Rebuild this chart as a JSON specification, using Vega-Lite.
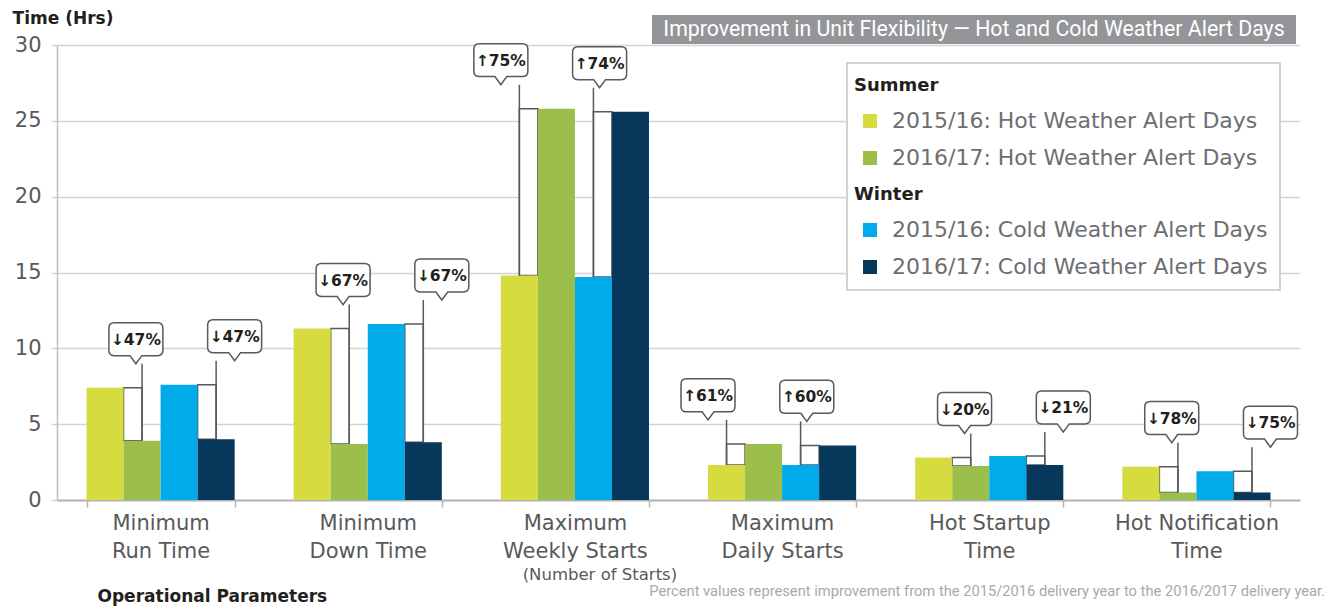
{
  "$schema": "https://vega.github.io/schema/vega-lite/v6.json",
  "background": "white",
  "padding": {"left": 12, "top": 10, "right": 10, "bottom": 4},
  "config": {
    "view": {"stroke": null},
    "axisY": {
      "tickCount": 6,
      "grid": true,
      "gridColor": "#d1d3d4",
      "gridWidth": 1.5,
      "domain": true,
      "domainColor": "#bcbec0",
      "domainWidth": 1.5,
      "ticks": true,
      "tickSize": 6,
      "tickColor": "#d1d3d4",
      "tickWidth": 1.5,
      "labelFont": "DejaVu Sans",
      "labelFontSize": 21,
      "labelColor": "#58595b",
      "labelPadding": 10
    }
  },
  "datasets": {
    "bars": [
      {"param": "Minimum Run Time", "series": "2015/16: Hot Weather Alert Days", "value": 7.4},
      {"param": "Minimum Run Time", "series": "2016/17: Hot Weather Alert Days", "value": 3.9},
      {"param": "Minimum Run Time", "series": "2015/16: Cold Weather Alert Days", "value": 7.6},
      {"param": "Minimum Run Time", "series": "2016/17: Cold Weather Alert Days", "value": 4.0},
      {"param": "Minimum Down Time", "series": "2015/16: Hot Weather Alert Days", "value": 11.3},
      {"param": "Minimum Down Time", "series": "2016/17: Hot Weather Alert Days", "value": 3.7},
      {"param": "Minimum Down Time", "series": "2015/16: Cold Weather Alert Days", "value": 11.6},
      {"param": "Minimum Down Time", "series": "2016/17: Cold Weather Alert Days", "value": 3.8},
      {"param": "Maximum Weekly Starts", "series": "2015/16: Hot Weather Alert Days", "value": 14.8},
      {"param": "Maximum Weekly Starts", "series": "2016/17: Hot Weather Alert Days", "value": 25.8},
      {"param": "Maximum Weekly Starts", "series": "2015/16: Cold Weather Alert Days", "value": 14.7},
      {"param": "Maximum Weekly Starts", "series": "2016/17: Cold Weather Alert Days", "value": 25.6},
      {"param": "Maximum Daily Starts", "series": "2015/16: Hot Weather Alert Days", "value": 2.3},
      {"param": "Maximum Daily Starts", "series": "2016/17: Hot Weather Alert Days", "value": 3.7},
      {"param": "Maximum Daily Starts", "series": "2015/16: Cold Weather Alert Days", "value": 2.3},
      {"param": "Maximum Daily Starts", "series": "2016/17: Cold Weather Alert Days", "value": 3.6},
      {"param": "Hot Startup Time", "series": "2015/16: Hot Weather Alert Days", "value": 2.8},
      {"param": "Hot Startup Time", "series": "2016/17: Hot Weather Alert Days", "value": 2.25},
      {"param": "Hot Startup Time", "series": "2015/16: Cold Weather Alert Days", "value": 2.9},
      {"param": "Hot Startup Time", "series": "2016/17: Cold Weather Alert Days", "value": 2.3},
      {"param": "Hot Notification Time", "series": "2015/16: Hot Weather Alert Days", "value": 2.2},
      {"param": "Hot Notification Time", "series": "2016/17: Hot Weather Alert Days", "value": 0.5},
      {"param": "Hot Notification Time", "series": "2015/16: Cold Weather Alert Days", "value": 1.9},
      {"param": "Hot Notification Time", "series": "2016/17: Cold Weather Alert Days", "value": 0.5}
    ],
    "brackets": [
      {"param": "Minimum Run Time", "season": "Summer", "label": "↓47%", "high": 7.4, "low": 3.9, "bracket": "Summer fall", "over": "2016/17: Hot Weather Alert Days"},
      {"param": "Minimum Run Time", "season": "Winter", "label": "↓47%", "high": 7.6, "low": 4.0, "bracket": "Winter fall", "over": "2016/17: Cold Weather Alert Days"},
      {"param": "Minimum Down Time", "season": "Summer", "label": "↓67%", "high": 11.3, "low": 3.7, "bracket": "Summer fall", "over": "2016/17: Hot Weather Alert Days"},
      {"param": "Minimum Down Time", "season": "Winter", "label": "↓67%", "high": 11.6, "low": 3.8, "bracket": "Winter fall", "over": "2016/17: Cold Weather Alert Days"},
      {"param": "Maximum Weekly Starts", "season": "Summer", "label": "↑75%", "high": 25.8, "low": 14.8, "bracket": "Summer rise", "over": "2015/16: Hot Weather Alert Days"},
      {"param": "Maximum Weekly Starts", "season": "Winter", "label": "↑74%", "high": 25.6, "low": 14.7, "bracket": "Winter rise", "over": "2015/16: Cold Weather Alert Days"},
      {"param": "Maximum Daily Starts", "season": "Summer", "label": "↑61%", "high": 3.7, "low": 2.3, "bracket": "Summer rise", "over": "2015/16: Hot Weather Alert Days"},
      {"param": "Maximum Daily Starts", "season": "Winter", "label": "↑60%", "high": 3.6, "low": 2.3, "bracket": "Winter rise", "over": "2015/16: Cold Weather Alert Days"},
      {"param": "Hot Startup Time", "season": "Summer", "label": "↓20%", "high": 2.8, "low": 2.25, "bracket": "Summer fall", "over": "2016/17: Hot Weather Alert Days"},
      {"param": "Hot Startup Time", "season": "Winter", "label": "↓21%", "high": 2.9, "low": 2.3, "bracket": "Winter fall", "over": "2016/17: Cold Weather Alert Days"},
      {"param": "Hot Notification Time", "season": "Summer", "label": "↓78%", "high": 2.2, "low": 0.5, "bracket": "Summer fall", "over": "2016/17: Hot Weather Alert Days"},
      {"param": "Hot Notification Time", "season": "Winter", "label": "↓75%", "high": 1.9, "low": 0.5, "bracket": "Winter fall", "over": "2016/17: Cold Weather Alert Days"}
    ],
    "notes": [
      {"param": "Maximum Weekly Starts", "note": "(Number of Starts)"}
    ]
  },
  "spacing": -10,
  "vconcat": [
    {
      "bounds": "flush",
      "spacing": 583,
      "hconcat": [
        {
          "width": 12,
          "height": 8,
          "data": {"values": [{"t": "Time (Hrs)"}]},
          "mark": {"type": "text", "font": "DejaVu Sans", "fontSize": 17, "fontWeight": "bold", "color": "#231f20"},
          "encoding": {"text": {"field": "t", "type": "nominal"}}
        },
        {
          "width": 644,
          "height": 29,
          "view": {"fill": "#939598", "stroke": null},
          "data": {"values": [{"t": "Improvement in Unit Flexibility — Hot and Cold Weather Alert Days"}]},
          "mark": {"type": "text", "font": "Roboto", "fontSize": 21.3, "color": "white"},
          "encoding": {"text": {"field": "t", "type": "nominal"}}
        }
      ]
    },
    {
      "width": 1243,
      "height": 455,
      "title": {
        "text": "Percent values represent improvement from the 2015/2016 delivery year to the 2016/2017 delivery year.",
        "orient": "bottom",
        "anchor": "end",
        "frame": "group",
        "offset": -20,
        "dx": 25,
        "font": "Roboto",
        "fontSize": 14.7,
        "fontWeight": "normal",
        "color": "#a7a9ac"
      },
      "encoding": {
        "x": {
          "field": "param",
          "type": "nominal",
          "scale": {
            "domain": ["Minimum Run Time", "Minimum Down Time", "Maximum Weekly Starts", "Maximum Daily Starts", "Hot Startup Time", "Hot Notification Time"],
            "paddingInner": 0.285,
            "paddingOuter": 0.1425
          },
          "axis": {
            "title": "Operational Parameters",
            "titleFont": "DejaVu Sans",
            "titleFontSize": 17,
            "titleFontWeight": "bold",
            "titleColor": "#231f20",
            "titleAnchor": "start",
            "titleAlign": "left",
            "titleBaseline": "middle",
            "titleX": 40,
            "titleY": 96,
            "labelAngle": 0,
            "labelExpr": "indexof(datum.label, 'Hot ') == 0 ? [slice(datum.label, 0, lastindexof(datum.label, ' ')), slice(datum.label, lastindexof(datum.label, ' ') + 1)] : [slice(datum.label, 0, indexof(datum.label, ' ')), slice(datum.label, indexof(datum.label, ' ') + 1)]",
            "labelFont": "DejaVu Sans",
            "labelFontSize": 21,
            "labelColor": "#58595b",
            "labelLineHeight": 28,
            "labelPadding": 5,
            "labelLimit": 0,
            "tickBand": "extent",
            "tickSize": 7,
            "tickColor": "#b5b5b5",
            "tickWidth": 1.5,
            "domainColor": "#b5b5b5",
            "domainWidth": 2,
            "grid": false
          }
        }
      },
      "layer": [
        {
          "data": {"name": "brackets"},
          "mark": {"type": "bar", "fill": "white", "stroke": "#58595b", "strokeWidth": 1.5},
          "encoding": {
            "xOffset": {
              "field": "bracket",
              "type": "nominal",
              "scale": {"domain": ["pad-1", "Summer rise", "Summer fall", "pad-2", "pad-3", "Winter rise", "Winter fall", "pad-4"], "paddingInner": 0, "paddingOuter": 0}
            },
            "y": {"field": "high", "type": "quantitative", "title": null, "scale": {"domain": [0, 30]}},
            "y2": {"field": "low"}
          }
        },
        {
          "data": {"name": "bars"},
          "mark": {"type": "bar"},
          "encoding": {
            "xOffset": {
              "field": "series",
              "type": "nominal",
              "scale": {"domain": ["2015/16: Hot Weather Alert Days", "2016/17: Hot Weather Alert Days", "2015/16: Cold Weather Alert Days", "2016/17: Cold Weather Alert Days"], "paddingInner": 0, "paddingOuter": 0}
            },
            "y": {"field": "value", "type": "quantitative", "stack": null, "title": null, "scale": {"domain": [0, 30]}},
            "color": {
              "field": "series",
              "type": "nominal",
              "scale": {
                "domain": ["Summer", "2015/16: Hot Weather Alert Days", "2016/17: Hot Weather Alert Days", "Winter", "2015/16: Cold Weather Alert Days", "2016/17: Cold Weather Alert Days"],
                "range": ["transparent", "#d6dc3f", "#9cbe4b", "transparent", "#00abe9", "#07375a"]
              },
              "legend": {
                "title": null,
                "orient": "none",
                "legendX": 790,
                "legendY": 48,
                "direction": "vertical",
                "symbolType": "square",
                "symbolSize": 196,
                "symbolStrokeWidth": 0,
                "labelFont": "DejaVu Sans",
                "labelFontSize": 22,
                "labelColor": "#6d6e71",
                "labelOffset": 11,
                "labelLimit": 0,
                "rowPadding": 15,
                "padding": 12,
                "strokeColor": "#d1d3d4",
                "fillColor": "white",
                "encode": {
                  "legend": {
                    "update": {
                      "strokeWidth": {"value": 2}
                    }
                  },
                  "labels": {
                    "update": {
                      "fontWeight": {"signal": "datum.label == 'Summer' || datum.label == 'Winter' ? 'bold' : 'normal'"},
                      "fontSize": {"signal": "datum.label == 'Summer' || datum.label == 'Winter' ? 18 : 22"},
                      "fill": {"signal": "datum.label == 'Summer' || datum.label == 'Winter' ? '#231f20' : '#6d6e71'"},
                      "dx": {"signal": "datum.label == 'Summer' || datum.label == 'Winter' ? -38 : 0"}
                    }
                  }
                }
              }
            }
          }
        },
        {
          "data": {"name": "brackets"},
          "mark": {"type": "rule", "color": "#58595b", "strokeWidth": 1.5, "y2Offset": -24},
          "encoding": {
            "xOffset": {
              "field": "over",
              "type": "nominal",
              "scale": {"domain": ["2015/16: Hot Weather Alert Days", "2016/17: Hot Weather Alert Days", "2015/16: Cold Weather Alert Days", "2016/17: Cold Weather Alert Days"], "paddingInner": 0, "paddingOuter": 0}
            },
            "y": {"field": "low", "type": "quantitative", "title": null, "scale": {"domain": [0, 30]}},
            "y2": {"field": "high"}
          }
        },
        {
          "data": {"name": "brackets"},
          "mark": {
            "type": "point",
            "shape": "M0,0 L-0.22,-0.3 L-0.8,-0.3 Q-1,-0.3 -1,-0.5 L-1,-1.32 Q-1,-1.52 -0.8,-1.52 L0.8,-1.52 Q1,-1.52 1,-1.32 L1,-0.5 Q1,-0.3 0.8,-0.3 L0.22,-0.3 Z",
            "size": 2916,
            "filled": true,
            "fill": "white",
            "stroke": "#58595b",
            "strokeWidth": 1.5,
            "opacity": 1,
            "yOffset": -24
          },
          "encoding": {
            "xOffset": {
              "field": "over",
              "type": "nominal",
              "scale": {"domain": ["2015/16: Hot Weather Alert Days", "2016/17: Hot Weather Alert Days", "2015/16: Cold Weather Alert Days", "2016/17: Cold Weather Alert Days"], "paddingInner": 0, "paddingOuter": 0}
            },
            "y": {"field": "high", "type": "quantitative", "title": null, "scale": {"domain": [0, 30]}}
          }
        },
        {
          "data": {"name": "brackets"},
          "mark": {"type": "text", "font": "DejaVu Sans", "fontSize": 15.5, "fontWeight": "bold", "color": "#231f20", "baseline": "middle", "yOffset": -48},
          "encoding": {
            "xOffset": {
              "field": "over",
              "type": "nominal",
              "scale": {"domain": ["2015/16: Hot Weather Alert Days", "2016/17: Hot Weather Alert Days", "2015/16: Cold Weather Alert Days", "2016/17: Cold Weather Alert Days"], "paddingInner": 0, "paddingOuter": 0}
            },
            "y": {"field": "high", "type": "quantitative", "title": null, "scale": {"domain": [0, 30]}},
            "text": {"field": "label", "type": "nominal"}
          }
        },
        {
          "data": {"name": "notes"},
          "mark": {"type": "text", "font": "DejaVu Sans", "fontSize": 16.5, "color": "#58595b", "baseline": "middle", "dx": 25, "dy": 75},
          "encoding": {
            "y": {"datum": 0, "type": "quantitative", "title": null, "scale": {"domain": [0, 30]}},
            "text": {"field": "note", "type": "nominal"}
          }
        }
      ],
      "resolve": {"scale": {"xOffset": "independent"}}
    }
  ]
}
